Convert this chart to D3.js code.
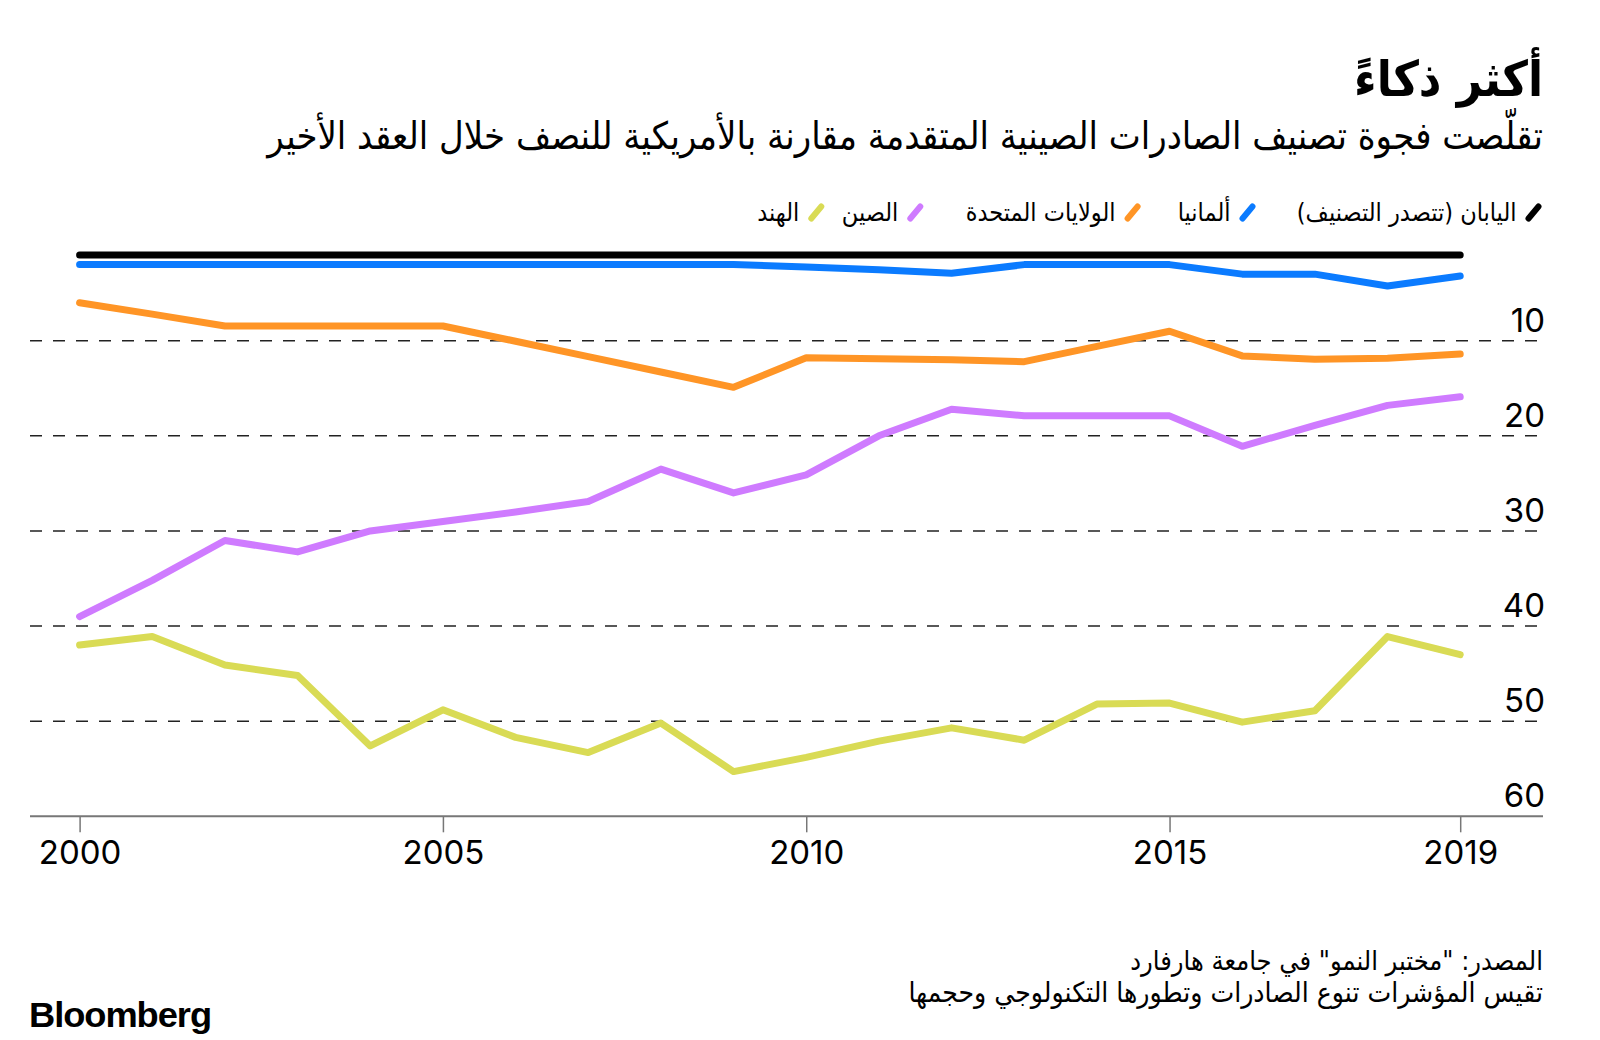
<!DOCTYPE html>
<html>
<head>
<meta charset="utf-8">
<script src="https://cdn.jsdelivr.net/npm/d3@7"></script>
<style>
  html, body { margin: 0; padding: 0; background: #fff; }
  svg { display: block; }
  .ar { font-family: "DejaVu Sans Condensed", "DejaVu Sans", sans-serif; }
  .num { font-family: Inter, "Liberation Sans", sans-serif; }
</style>
</head>
<body>
<svg id="chart" width="1600" height="1040"></svg>
<script>
// ---------- data ----------
const years = [2000, 2001, 2002, 2003, 2004, 2005, 2006, 2007, 2008, 2009,
               2010, 2011, 2012, 2013, 2014, 2015, 2016, 2017, 2018, 2019];
const japan   = [1, 1, 1, 1, 1, 1, 1, 1, 1, 1, 1, 1, 1, 1, 1, 1, 1, 1, 1, 1];
const germany = [2, 2, 2, 2, 2, 2, 2, 2, 2, 2, 2.25, 2.55, 2.9, 2, 2, 2, 3, 3, 4.25, 3.2];
const usa     = [6, 7.2, 8.45, 8.45, 8.45, 8.45, 10.06, 11.67, 13.29, 14.9,
                 11.8, 11.9, 12.0, 12.2, 10.6, 9.0, 11.6, 11.94, 11.84, 11.4];
const china   = [39, 35.2, 31, 32.2, 30, 29, 28, 26.9, 23.5, 26,
                 24.1, 20, 17.2, 17.9, 17.9, 17.9, 21.1, 18.9, 16.8, 15.9];
const india   = [42, 41.1, 44.1, 45.2, 52.6, 48.8, 51.7, 53.3, 50.2, 55.3,
                 53.8, 52.1, 50.7, 52, 48.2, 48.1, 50.1, 48.9, 41.1, 43];
const seriesNames  = ["اليابان (تتصدر التصنيف)", "ألمانيا", "الولايات المتحدة", "الصين", "الهند"];
const seriesColors = ["#000000", "#0b7bff", "#ff9526", "#cf7bff", "#d9db55"];
const xTickValues = [2000, 2005, 2010, 2015, 2019];
const yTickValues = [10, 20, 30, 40, 50, 60];
const titleText = "أكثر ذكاءً";
const subtitleText = "تقلّصت فجوة تصنيف الصادرات الصينية المتقدمة مقارنة بالأمريكية للنصف خلال العقد الأخير";
const sourceText = "المصدر: \"مختبر النمو\" في جامعة هارفارد";
const noteText = "تقيس المؤشرات تنوع الصادرات وتطورها التكنولوجي وحجمها";

const seriesValues = [japan, germany, usa, china, india];

// ---------- layout ----------
const svg = d3.select("#chart");
const x = d3.scaleLinear().domain([2000, 2019]).range([79.6, 1460.2]);
const y = d3.scaleLinear().domain([0, 60]).range([245.6, 816.3]);
const leftEdge = 30, rightEdge = 1543;

function fitWidth(sel, target) {
  const w = sel.node().getComputedTextLength();
  const fs = parseFloat(sel.attr("font-size"));
  sel.attr("font-size", fs * target / w);
}
// right-anchored Arabic text (rtl: "start" = right edge)
function arText(xPos, yPos, size, txt) {
  return svg.append("text").attr("class", "ar")
    .attr("x", xPos).attr("y", yPos)
    .attr("direction", "rtl").attr("text-anchor", "start")
    .attr("font-size", size).attr("fill", "#000")
    .text(txt);
}

// title
const title = arText(rightEdge, 96, 46, titleText).attr("font-weight", "bold");
fitWidth(title, 189);

const subtitle = arText(rightEdge, 149, 30, subtitleText);
fitWidth(subtitle, 1276);

// legend
const legendX = [1533.5, 1247.5, 1132.6, 915.3, 816.3];
const legendY = 212.5;
seriesNames.forEach((name, i) => {
  svg.append("line")
    .attr("x1", legendX[i] - 5).attr("y1", legendY + 6)
    .attr("x2", legendX[i] + 5).attr("y2", legendY - 6)
    .attr("stroke", seriesColors[i]).attr("stroke-width", 6)
    .attr("stroke-linecap", "round");
  arText(legendX[i] - 17, 221, 25, name);
});

// gridlines (dashed) 10..50
svg.append("g").selectAll("line")
  .data(yTickValues.filter(v => v < 60))
  .join("line")
  .attr("x1", leftEdge).attr("x2", rightEdge)
  .attr("y1", d => y(d)).attr("y2", d => y(d))
  .attr("stroke", "#222").attr("stroke-width", 1.5)
  .attr("stroke-dasharray", "12,11");

// y labels
svg.append("g").selectAll("text")
  .data(yTickValues)
  .join("text").attr("class", "num")
  .attr("x", 1545).attr("y", d => y(d) - 9)
  .attr("text-anchor", "end")
  .attr("font-size", 33).attr("fill", "#000")
  .text(d => d);

// x axis
const xAxis = d3.axisBottom(x).tickValues(xTickValues).tickFormat(d3.format("d"))
  .tickSize(16).tickSizeOuter(0).tickPadding(8);
const gx = svg.append("g").attr("transform", `translate(0,${y(60)})`).call(xAxis);
gx.select(".domain").remove();
gx.selectAll(".tick line").attr("stroke", "#777").attr("stroke-width", 1.5);
gx.selectAll(".tick text").attr("class", "num").attr("font-size", 33)
  .attr("fill", "#000").attr("dy", "0.72em");
svg.append("line")
  .attr("x1", leftEdge).attr("x2", rightEdge)
  .attr("y1", y(60)).attr("y2", y(60))
  .attr("stroke", "#777").attr("stroke-width", 2);

// lines
const line = d3.line().x((d, i) => x(years[i])).y(d => y(d));
svg.append("g").selectAll("path")
  .data(seriesValues.map((v, i) => ({ v, c: seriesColors[i] })).reverse())
  .join("path")
  .attr("d", d => line(d.v))
  .attr("fill", "none").attr("stroke", d => d.c)
  .attr("stroke-width", 7)
  .attr("stroke-linejoin", "round").attr("stroke-linecap", "round");

// footer
const src = arText(rightEdge, 970, 22, sourceText);
fitWidth(src, 413);
const note = arText(rightEdge, 1002, 22, noteText);
fitWidth(note, 635);

svg.append("text")
  .attr("x", 29).attr("y", 1027)
  .attr("font-family", "'Liberation Sans Narrow', 'Liberation Sans', sans-serif")
  .attr("font-weight", "bold").attr("font-size", 35)
  .attr("textLength", 182).attr("lengthAdjust", "spacingAndGlyphs")
  .attr("letter-spacing", -1)
  .text("Bloomberg");
</script>
</body>
</html>
